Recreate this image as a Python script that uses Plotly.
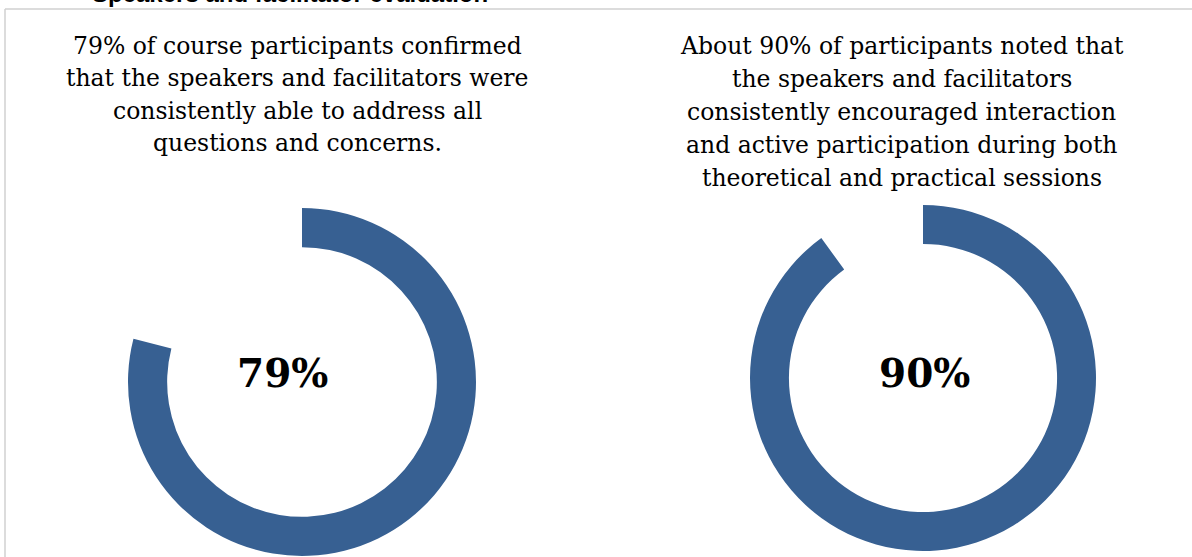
import plotly.graph_objects as go

W, H = 1192, 557

# Share of participants agreeing with each statement
percent_values = [79, 90]
center_labels = ["79%", "90%"]

left_lines = [
    "79% of course participants confirmed",
    "that the speakers and facilitators were",
    "consistently able to address all",
    "questions and concerns.",
]
right_lines = [
    "About 90% of participants noted that",
    "the speakers and facilitators",
    "consistently encouraged interaction",
    "and active participation during both",
    "theoretical and practical sessions",
]
title_text = "Speakers and facilitator evaluation"

RING = "#376092"


def px(x):
    return x / W


def py(y):
    return 1 - y / H


# donut geometry in pixels: centre x, centre y, outer radius
donuts = [(302, 382, 174), (923, 378, 173)]

fig = go.Figure()
for val, (cx, cy, r) in zip(percent_values, donuts):
    fig.add_trace(go.Pie(
        values=[val, 100 - val],
        marker=dict(colors=[RING, "rgba(0,0,0,0)"], line=dict(width=0)),
        hole=0.775,
        sort=False,
        direction="clockwise",
        rotation=0,
        textinfo="none",
        hoverinfo="none",
        showlegend=False,
        domain=dict(x=[px(cx - r), px(cx + r)], y=[py(cy + r), py(cy - r)]),
    ))

ann = []
serif = "DejaVu Serif"
for i, line in enumerate(left_lines):
    ann.append(dict(text=line, x=px(297), y=py(46 + i * 32.3), xref="paper", yref="paper",
                    xanchor="center", yanchor="middle", showarrow=False,
                    font=dict(family=serif, size=23.5, color="#000000")))
for i, line in enumerate(right_lines):
    ann.append(dict(text=line, x=px(901.5), y=py(46 + i * 33), xref="paper", yref="paper",
                    xanchor="center", yanchor="middle", showarrow=False,
                    font=dict(family=serif, size=23.5, color="#000000")))

label_pos = [(282, 373), (924, 373)]
for lab, (lx, ly) in zip(center_labels, label_pos):
    ann.append(dict(text="<b>%s</b>" % lab, x=px(lx), y=py(ly), xref="paper", yref="paper",
                    xanchor="center", yanchor="middle", showarrow=False,
                    font=dict(family=serif, size=39, color="#000000")))

ann.append(dict(text="<b>%s</b>" % title_text, x=px(90), y=py(-6.5), xref="paper", yref="paper",
                xanchor="left", yanchor="middle", showarrow=False,
                font=dict(family="Liberation Sans", size=24, color="#000000")))

shapes = [
    dict(type="line", xref="paper", yref="paper", x0=px(5), x1=px(5), y0=0, y1=py(9),
         line=dict(color="#d0d0d0", width=1.5)),
    dict(type="line", xref="paper", yref="paper", x0=px(5), x1=1, y0=py(9), y1=py(9),
         line=dict(color="#d0d0d0", width=1.5)),
]

fig.update_layout(
    width=W, height=H,
    margin=dict(l=0, r=0, t=0, b=0),
    paper_bgcolor="white", plot_bgcolor="white",
    annotations=ann, shapes=shapes,
)

fig.write_html("out.html")
